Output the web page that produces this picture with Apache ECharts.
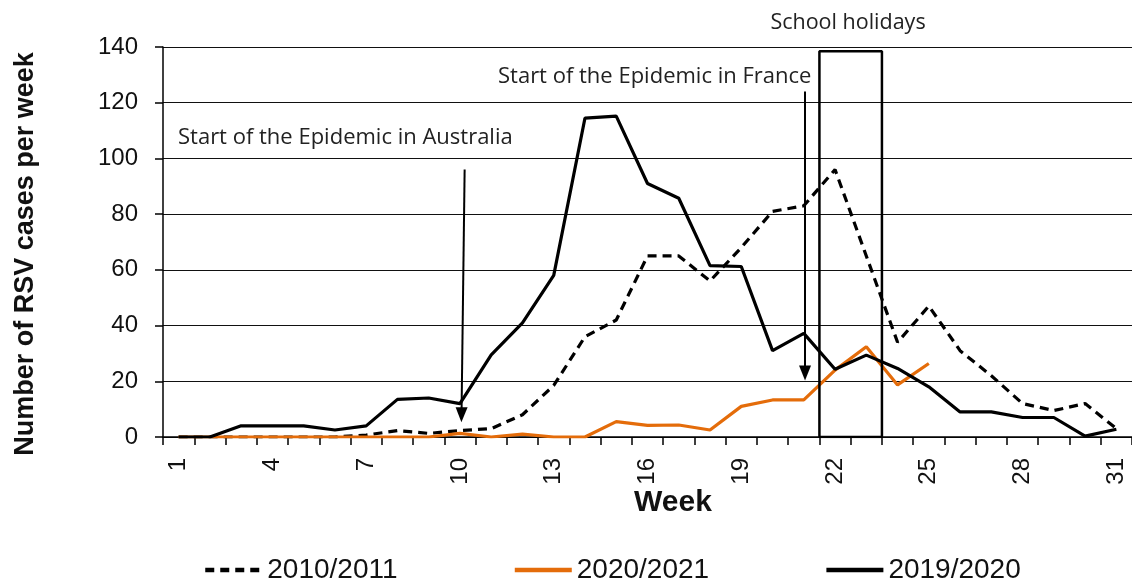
<!DOCTYPE html>
<html><head><meta charset="utf-8">
<script src="https://cdn.jsdelivr.net/npm/echarts@6/dist/echarts.min.js"></script>
<style>html,body{margin:0;padding:0;background:#fff}#c{width:1132px;height:582px}</style>
</head><body><div id="c"></div>
<script>
var weeks = ['1','2','3','4','5','6','7','8','9','10','11','12','13','14','15','16','17','18','19','20','21','22','23','24','25','26','27','28','29','30','31'];
var s2010 = [0,0,0,0,0,0,0.7,2.3,1.3,2.3,3,8,18.5,36,42,65,65,56,68,81,83,96,65,34,47,31,22,12,9.5,12,3];
var s2020 = [0,0,0,0,0,0,0,0,0,1.3,0,1,0,0,5.5,4.2,4.3,2.5,11,13.3,13.3,24,32.4,18.7,26.4,null,null,null,null,null,null];
var s2019 = [0,0,4,4,4,2.5,4,13.5,14,12,29.5,41,58,114.5,115.2,91,85.7,61.5,61.2,31,37.2,24.3,29.4,24.6,18,9,9,7,7,0.3,2.8];
var seriesNames = ['2010/2011','2020/2021','2019/2020'];
var yTicks = {min:0, max:140, interval:20};
// annotation geometry in data units (hidden value x-axis 0.5..31.5)
var holidayBox = [[21.5,0],[21.5,138.5],[23.5,138.5],[23.5,0],[21.5,0]];
var arrowAus = [[10.15,96],[10.05,8]];
var arrowFra = [[21.04,124],[21.04,23]];

var chart = echarts.init(document.getElementById('c'));
var annFont = '"Open Sans", sans-serif';
var clear = 'rgba(0,0,0,0)';
chart.setOption({
  animation:false,
  grid:{left:163,right:0,top:47,bottom:145,containLabel:false},
  legend:{
    data:seriesNames, left:203, top:556, itemGap:115, itemWidth:57, itemHeight:14,
    lineStyle:{width:4.5},
    padding:0, textStyle:{fontFamily:'"Liberation Sans", Arial, sans-serif', fontSize:28, color:'#111'}
  },
  xAxis:[{
    type:'category', data:weeks, boundaryGap:true,
    axisLine:{lineStyle:{color:'#000', width:1.5}},
    axisTick:{show:true, interval:0, length:8, lineStyle:{color:'#000', width:1.5}},
    axisLabel:{interval:2, rotate:90, margin:21, fontSize:24, color:'#111', fontFamily:'"Liberation Sans", Arial, sans-serif'},
    splitLine:{show:false}
  },{
    type:'value', min:0.5, max:31.5, show:false
  }],
  yAxis:{
    type:'value', min:yTicks.min, max:yTicks.max, interval:yTicks.interval,
    axisLine:{show:true, lineStyle:{color:'#000', width:1.5}},
    axisTick:{show:true, length:8, lineStyle:{color:'#000', width:1.5}},
    axisLabel:{margin:25, fontSize:24, color:'#111', fontFamily:'"Liberation Sans", Arial, sans-serif'},
    splitLine:{show:true, lineStyle:{color:'#111', width:1.2}}
  },
  graphic:[
    {type:'text', rotation:Math.PI/2, x:26, y:254, style:{text:'Number of RSV cases per week', font:'bold 27px "Liberation Sans", Arial, sans-serif', fill:'#111', textAlign:'center', textVerticalAlign:'middle'}},
    {type:'text', x:673, y:503, style:{text:'Week', font:'bold 30px "Liberation Sans", Arial, sans-serif', fill:'#111', textAlign:'center', textVerticalAlign:'middle'}},
    {type:'text', x:178, y:138, style:{text:'Start of the Epidemic in Australia', font:'22px '+annFont, fill:'#222', textAlign:'left', textVerticalAlign:'middle'}},
    {type:'text', x:498, y:77, style:{text:'Start of the Epidemic in France', font:'22px '+annFont, fill:'#222', textAlign:'left', textVerticalAlign:'middle'}},
    {type:'text', x:848, y:23, style:{text:'School holidays', font:'21.5px '+annFont, fill:'#222', textAlign:'center', textVerticalAlign:'middle'}}
  ],
  series:[
    {name:seriesNames[0], type:'line', data:s2010, symbol:'circle', showSymbol:false, lineStyle:{color:'#000', width:3.2, type:[9,6]}, itemStyle:{color:clear}, z:2},
    {name:seriesNames[1], type:'line', data:s2020, symbol:'circle', showSymbol:false, lineStyle:{color:'#E46C0A', width:3.2}, itemStyle:{color:clear}, z:3},
    {name:seriesNames[2], type:'line', data:s2019, symbol:'circle', showSymbol:false, lineStyle:{color:'#000', width:3.2}, itemStyle:{color:clear}, z:4},
    {name:'box', type:'line', xAxisIndex:1, data:holidayBox, symbol:'none', lineStyle:{color:'#000', width:2.5}, z:5, silent:true,
     markLine:{silent:true, symbol:['none','triangle'], symbolSize:[12,15], label:{show:false},
       lineStyle:{color:'#000', width:2, type:'solid'},
       data:[[{coord:arrowAus[0]},{coord:arrowAus[1]}],[{coord:arrowFra[0]},{coord:arrowFra[1]}]]}}
  ]
});
</script></body></html>
